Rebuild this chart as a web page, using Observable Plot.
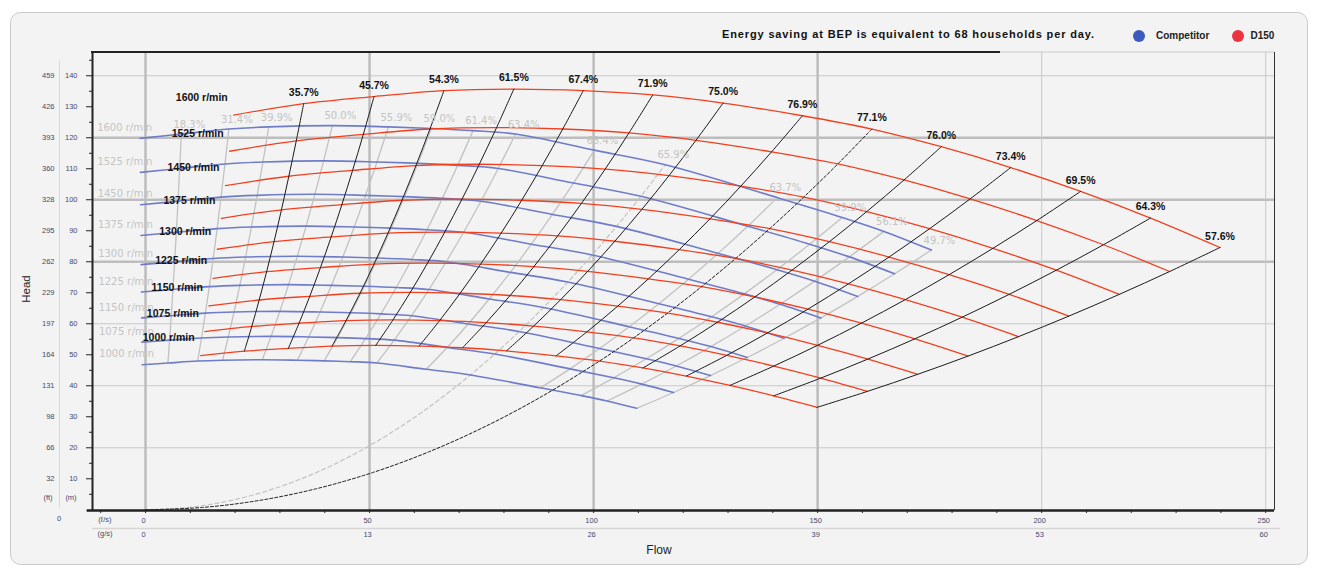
<!DOCTYPE html>
<html><head><meta charset="utf-8">
<script src="https://cdn.jsdelivr.net/npm/d3@7"></script>
<script src="https://cdn.jsdelivr.net/npm/@observablehq/plot@0.6"></script>
<style>
html,body{margin:0;padding:0;background:#fff;}
#chart{width:1320px;height:576px;}
</style></head><body><div id="chart"></div>
<script>
// ---- data ----
const speeds = [1600, 1525, 1450, 1375, 1300, 1225, 1150, 1075, 1000];
const ratedSpeed = 1600;
const bepLowSpeeds = [0, 125, 250, 375, 500, 625, 750, 875];

// D150 curve at 1600 r/min (flow l/s, head m, efficiency %)
const d150Flow = [19.7, 35.3, 51.0, 66.6, 82.2, 97.7, 113.2, 128.9, 146.6, 162.1, 177.6, 193.1, 208.7, 224.3, 239.8];
const d150Head = [127.3, 131.0, 133.3, 135.2, 135.7, 135.2, 133.8, 131.2, 127.1, 122.8, 117.1, 110.4, 102.7, 94.1, 84.6];
const d150Eff  = [null, 35.7, 45.7, 54.3, 61.5, 67.4, 71.9, 75.0, 76.9, 77.1, 76.0, 73.4, 69.5, 64.3, 57.6];
const d150Bep = 9;

// Competitor curve at 1600 r/min
const compFlow = [-1.2, 8.0, 18.6, 27.5, 41.7, 54.2, 63.8, 73.1, 82.6, 100.2, 116.0, 141.0, 155.5, 164.8, 175.4];
const compHead = [119.8, 121.2, 122.8, 123.5, 123.9, 123.5, 123.0, 122.3, 121.2, 116.0, 111.3, 100.7, 94.3, 89.8, 83.8];
const compEff  = [null, 18.3, 31.4, 39.9, 50.0, 55.9, 59.0, 61.4, 63.4, 65.4, 65.9, 63.7, 59.9, 56.1, 49.7];
const compBep = 10;

// axis tick labels
const headTicksM = [10, 20, 30, 40, 50, 60, 70, 80, 90, 100, 110, 120, 130, 140];
const headLabelsFt = ["32", "66", "98", "131", "164", "197", "229", "262", "295", "328", "360", "393", "426", "459"];
const flowTicksLs = [0, 50, 100, 150, 200, 250];
const flowLabelsGs = ["0", "13", "26", "39", "53", "60"];

// ---- affinity laws: Q ~ n, H ~ n^2 ----
function affinity(q, h, n) { const r = n / ratedSpeed; return {Q: q * r, H: h * r * r}; }

const d150Curves = speeds.flatMap(n => d150Flow.map((q, i) => ({n, i, ...affinity(q, d150Head[i], n)})));
const compCurves = speeds.flatMap(n => compFlow.map((q, i) => ({n, i, ...affinity(q, compHead[i], n)})));
const asc = speeds.slice().reverse();
const d150IsoLines = d150Eff.flatMap((e, i) => (e == null || i === d150Bep) ? [] : asc.map(n => ({i, ...affinity(d150Flow[i], d150Head[i], n)})));
const compIsoLines = compEff.flatMap((e, i) => (e == null || i === compBep) ? [] : asc.map(n => ({i, ...affinity(compFlow[i], compHead[i], n)})));
const d150BepLine = [...bepLowSpeeds, ...asc].map(n => affinity(d150Flow[d150Bep], d150Head[d150Bep], n));
const compBepLine = [...bepLowSpeeds, ...asc].map(n => affinity(compFlow[compBep], compHead[compBep], n));
const d150EffLabels = d150Eff.flatMap((e, i) => e == null ? [] : [{...affinity(d150Flow[i], d150Head[i], ratedSpeed), t: e.toFixed(1) + "%"}]);
const compEffLabels = compEff.flatMap((e, i) => e == null ? [] : [{...affinity(compFlow[i], compHead[i], ratedSpeed), t: e.toFixed(1) + "%"}]);
const d150SpeedLabels = speeds.map(n => ({...affinity(d150Flow[0], d150Head[0], n), t: n + " r/min"}));
const compSpeedLabels = speeds.map(n => ({...affinity(compFlow[0], compHead[0], n), t: n + " r/min"}));

const xMin = -11.83, xMax = 251.96, yMin = -0.23, yMax = 147.5;
const axisCol = "#3d4b6e";

const chart = Plot.plot({
  width: 1320, height: 576,
  marginLeft: 92, marginRight: 46, marginTop: 52, marginBottom: 66,
  x: {domain: [xMin, xMax]},
  y: {domain: [yMin, yMax]},
  style: {background: "transparent", fontFamily: "'Liberation Sans', Arial, sans-serif", overflow: "visible"},
  marks: [
    Plot.ruleY([20, 40, 60, 140], {stroke: "#c9c9c9", strokeWidth: 1}),
    Plot.ruleY([80, 100, 120], {stroke: "#bdbdbd", strokeWidth: 2.5}),
    Plot.ruleX([200, 250], {stroke: "#c9c9c9", strokeWidth: 1}),
    Plot.ruleX([0, 50, 100, 150], {stroke: "#bdbdbd", strokeWidth: 2.5}),
    Plot.ruleX([xMax], {stroke: "#333", strokeWidth: 1}),
    // competitor
    Plot.line(compIsoLines, {x: "Q", y: "H", z: "i", stroke: "#c2c2c2", strokeWidth: 1.3, curve: "catmull-rom"}),
    Plot.line(compBepLine, {x: "Q", y: "H", stroke: "#c2c2c2", strokeWidth: 1.2, strokeDasharray: "4,3", curve: "catmull-rom"}),
    Plot.line(compCurves, {x: "Q", y: "H", z: "n", stroke: "#6f7dc8", strokeWidth: 1.6, curve: "catmull-rom"}),
    // D150
    Plot.line(d150Curves, {x: "Q", y: "H", z: "n", stroke: "#f2401f", strokeWidth: 1.3, curve: "catmull-rom"}),
    Plot.line(d150IsoLines, {x: "Q", y: "H", z: "i", stroke: "#1c1c1c", strokeWidth: 1, curve: "catmull-rom"}),
    Plot.line(d150BepLine, {x: "Q", y: "H", stroke: "#1c1c1c", strokeWidth: 1, strokeDasharray: "3,2", curve: "catmull-rom"}),
    // labels
    Plot.text(compEffLabels, {x: "Q", y: "H", text: "t", dx: 8, dy: -9.5, fill: "#c4c4c4", fontSize: 10, fontFamily: "'DejaVu Sans', sans-serif", ariaLabel: "comp-eff"}),
    Plot.text(compSpeedLabels, {x: "Q", y: "H", text: "t", textAnchor: "start", dx: -43, dy: -10.5, fill: "#c4c4c4", fontSize: 10, fontFamily: "'DejaVu Sans', sans-serif", ariaLabel: "comp-speed"}),
    Plot.text(d150EffLabels, {x: "Q", y: "H", text: "t", dy: -11, fill: "#111", fontSize: 10.5, fontWeight: "bold", ariaLabel: "d150-eff"}),
    Plot.text(d150SpeedLabels, {x: "Q", y: "H", text: "t", textAnchor: "end", dx: -6, dy: -18, fill: "#111", fontSize: 10.5, fontWeight: "bold", ariaLabel: "d150-speed"}),
    // axes
    Plot.axisY({ticks: d3.range(5, 146, 10), tickSize: 3, tickFormat: () => "", color: "#222", label: null}),
    Plot.axisY({ticks: headTicksM, tickSize: 6, tickFormat: () => "", color: "#222", label: null}),
    Plot.axisY({ticks: headTicksM, tickSize: 0, tickPadding: 15, fontSize: 7.5, color: axisCol, label: null}),
    Plot.axisY({ticks: headTicksM, tickSize: 0, tickPadding: 38, fontSize: 7.5, color: axisCol, tickFormat: d => headLabelsFt[headTicksM.indexOf(d)], label: null}),
    Plot.axisX({ticks: d3.range(-10, 251, 10), tickSize: 3, tickFormat: () => "", color: "#222", label: null}),
    Plot.axisX({ticks: flowTicksLs, tickSize: 0, tickPadding: 7, dx: -2, fontSize: 7.5, color: axisCol, label: null}),
    Plot.axisX({ticks: flowTicksLs, tickSize: 0, tickPadding: 21, dx: -2, fontSize: 7.5, color: axisCol, tickFormat: d => flowLabelsGs[flowTicksLs.indexOf(d)], label: null}),
    Plot.ruleX([xMin], {stroke: "#222", strokeWidth: 2}),
    Plot.ruleY([yMin], {x1: xMin - 1.2, x2: xMax, stroke: "#222", strokeWidth: 2.5})
  ]
});
document.getElementById("chart").appendChild(chart);

const svg = d3.select(chart);
svg.select('g[aria-label="d150-eff"]').style("letter-spacing", "-0.3px");
svg.select('g[aria-label="d150-speed"]').style("letter-spacing", "-0.3px");
svg.selectAll('g[aria-label="comp-eff"], g[aria-label="comp-speed"]').style("letter-spacing", "0.3px");

// card background
svg.insert("rect", ":first-child").attr("x", 10.5).attr("y", 12.5).attr("width", 1297).attr("height", 552)
  .attr("rx", 10).attr("fill", "#f3f3f3").attr("stroke", "#c9c9c9");

const deco = svg.append("g").attr("font-family", "'Liberation Sans', Arial, sans-serif").attr("text-anchor", "start");
// top border of frame
deco.append("line").attr("x1", 1000).attr("x2", 1274).attr("y1", 52).attr("y2", 52).attr("stroke", "#c9c9c9");
deco.append("line").attr("x1", 91).attr("x2", 1000).attr("y1", 52).attr("y2", 52).attr("stroke", "#222").attr("stroke-width", 2);
// dividers
deco.append("line").attr("x1", 59.5).attr("x2", 59.5).attr("y1", 60).attr("y2", 508).attr("stroke", "#dadada");
deco.append("line").attr("x1", 92).attr("x2", 1280).attr("y1", 528.5).attr("y2", 528.5).attr("stroke", "#d6d6d6").attr("stroke-width", 1.5);
// unit labels
const unitText = (x, y, t) => deco.append("text").attr("x", x).attr("y", y).attr("text-anchor", "middle")
  .attr("dominant-baseline", "middle").attr("font-size", 7.5).attr("fill", axisCol).text(t);
unitText(48, 498, "(ft)");
unitText(71, 498, "(m)");
unitText(59, 519.5, "0");
unitText(105, 520.5, "(ℓ/s)");
unitText(105, 534.5, "(g/s)");
// axis titles
deco.append("text").attr("x", 659).attr("y", 551).attr("text-anchor", "middle").attr("dominant-baseline", "middle")
  .attr("font-size", 12).attr("fill", "#222").text("Flow");
deco.append("text").attr("transform", "translate(27,289) rotate(-90)").attr("text-anchor", "middle").attr("dominant-baseline", "middle")
  .attr("font-size", 11.5).attr("fill", "#222").text("Head");
// title + legend
deco.append("text").attr("x", 722).attr("y", 35).attr("text-anchor", "start").attr("dominant-baseline", "middle").attr("font-size", 11)
  .attr("font-weight", "bold").attr("fill", "#111").attr("textLength", 372).attr("lengthAdjust", "spacing")
  .text("Energy saving at BEP is equivalent to 68 households per day.");
deco.append("circle").attr("cx", 1139).attr("cy", 36).attr("r", 6).attr("fill", "#3d5bbd");
deco.append("text").attr("x", 1156).attr("y", 36.5).attr("text-anchor", "start").attr("dominant-baseline", "middle").attr("font-size", 10)
  .attr("font-weight", "bold").attr("fill", "#222").text("Competitor");
deco.append("circle").attr("cx", 1238).attr("cy", 36).attr("r", 6).attr("fill", "#ec3440");
deco.append("text").attr("x", 1250.5).attr("y", 36.5).attr("text-anchor", "start").attr("dominant-baseline", "middle").attr("font-size", 10)
  .attr("font-weight", "bold").attr("fill", "#222").text("D150");
</script>
</body></html>
